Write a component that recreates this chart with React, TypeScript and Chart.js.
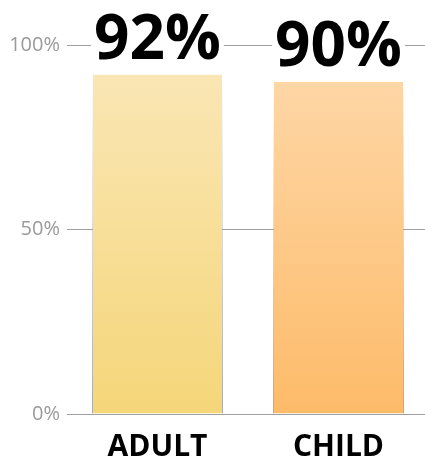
import React, { useEffect, useRef } from "react";
import { Chart, registerables } from "chart.js";

Chart.register(...registerables);

const categories = ["ADULT", "CHILD"];
const values = [92, 90];
const topColors = ["#FAE6B4", "#FED6A5"];
const bottomColors = ["#F5D679", "#FDBB69"];
const yTicks = [0, 50, 100];

const FONT = "'Open Sans', 'DejaVu Sans', sans-serif";

const valueLabelPlugin = {
  id: "valueLabels",
  afterDatasetsDraw(chart: any) {
    const ctx = chart.ctx;
    const meta = chart.getDatasetMeta(0);
    ctx.save();
    ctx.font = `bold 62px ${FONT}`;
    ctx.textAlign = "center";
    ctx.textBaseline = "alphabetic";
    meta.data.forEach((bar: any, i: number) => {
      const text = `${values[i]}%`;
      const m = ctx.measureText(text);
      const w = m.width;
      const baseline = bar.y - 16;
      ctx.fillStyle = "#ffffff";
      ctx.fillRect(bar.x - w / 2 - 3, baseline - 52, w + 6, 56);
      ctx.fillStyle = "#000000";
      ctx.fillText(text, bar.x, baseline);
    });
    ctx.restore();
  },
};

function verticalGradient(context: any, top: string, bottom: string) {
  const chart = context.chart;
  const y = chart.scales && chart.scales.y;
  if (!chart.chartArea || !y) return top;
  const i = context.dataIndex ?? 0;
  const y0 = y.getPixelForValue(values[i]);
  const y1 = y.getPixelForValue(0);
  const g = chart.ctx.createLinearGradient(0, y0, 0, y1);
  g.addColorStop(0, top);
  g.addColorStop(1, bottom);
  return g;
}

export default function App() {
  const ref = useRef<HTMLCanvasElement | null>(null);

  useEffect(() => {
    if (!ref.current) return;
    const chart = new Chart(ref.current, {
      type: "bar",
      data: {
        labels: categories,
        datasets: [
          {
            data: values,
            backgroundColor: (c: any) =>
              verticalGradient(c, topColors[c.dataIndex ?? 0], bottomColors[c.dataIndex ?? 0]),
            borderColor: (c: any) =>
              verticalGradient(c, "rgba(170,170,170,0)", "rgba(160,160,160,0.9)"),
            borderWidth: { left: 1, right: 1, top: 0, bottom: 0 },
            borderSkipped: false,
            categoryPercentage: 1,
            barPercentage: 0.724,
          },
        ],
      },
      options: {
        responsive: false,
        animation: false,
        layout: { padding: { top: 45, right: 4, left: 0, bottom: 0 } },
        plugins: {
          legend: { display: false },
          tooltip: { enabled: false },
        },
        scales: {
          x: {
            grid: { display: false, drawTicks: false },
            border: { display: false },
            ticks: {
              color: "#000000",
              font: { family: FONT, size: 30, weight: "bold" },
              padding: 15,
            },
            afterFit(scale: any) {
              scale.height = 47;
            },
          },
          y: {
            min: 0,
            max: 100,
            afterBuildTicks(scale: any) {
              scale.ticks = yTicks.map((v) => ({ value: v }));
            },
            grid: { color: "#a0a0a0", lineWidth: 1, drawTicks: false },
            border: { display: false },
            ticks: {
              color: "#9a9a9a",
              font: { family: FONT, size: 20 },
              padding: 7,
              callback: (v: any) => `${v}%`,
            },
            afterFit(scale: any) {
              scale.width = 67;
            },
          },
        },
      },
      plugins: [valueLabelPlugin],
    });
    return () => chart.destroy();
  }, []);

  return (
    <div
      style={{
        position: "fixed",
        left: 0,
        top: 0,
        width: 425,
        height: 461,
        overflow: "hidden",
        background: "#ffffff",
      }}
    >
      <canvas ref={ref} width={433} height={461} />
    </div>
  );
}
